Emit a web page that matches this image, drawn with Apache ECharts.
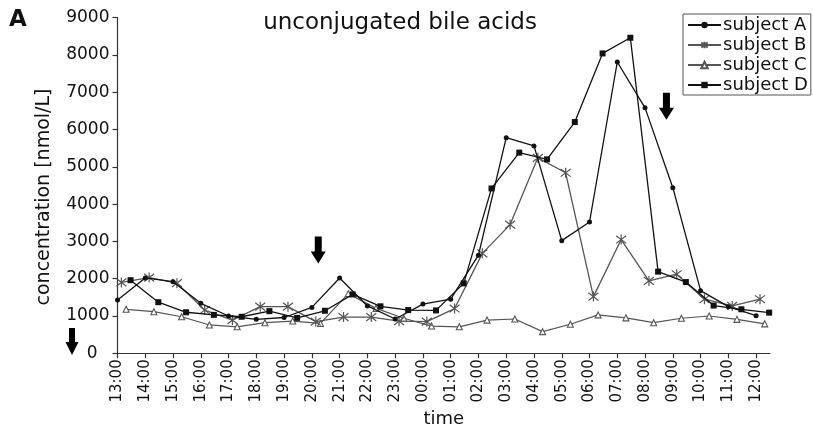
<!DOCTYPE html>
<html>
<head>
<meta charset="utf-8">
<script src="https://cdn.jsdelivr.net/npm/echarts@6/dist/echarts.min.js"></script>
<style>
  html, body { margin: 0; padding: 0; background: #fff; }
  #chart { width: 813px; height: 432px; }
</style>
</head>
<body>
<div id="chart"></div>
<script>
// tick labels on the time axis (one per hour, starting 13:00)
const tickLabels = ['13:00', '14:00', '15:00', '16:00', '17:00', '18:00', '19:00', '20:00',
  '21:00', '22:00', '23:00', '00:00', '01:00', '02:00', '03:00', '04:00', '05:00', '06:00',
  '07:00', '08:00', '09:00', '10:00', '11:00', '12:00'];
const yTicks = [0, 1000, 2000, 3000, 4000, 5000, 6000, 7000, 8000, 9000];

// each subject was sampled a little after the hour (in hours)
const offsetA = 0;
const offsetB = 0.14;
const offsetC = 0.31;
const offsetD = 0.47;

// concentrations [nmol/L], one per hourly sample
const subjectA = [1430, 2020, 1920, 1340, 1000, 910, 960, 1230, 2020, 1270, 920, 1320,
  1450, 2630, 5780, 5560, 3020, 3520, 7810, 6580, 4440, 1680, 1250, 1010];
const subjectB = [1900, 2030, 1880, 1160, 890, 1250, 1250, 850, 970, 970, 860, 850,
  1200, 2680, 3450, 5240, 4840, 1520, 3050, 1940, 2120, 1450, 1270, 1450];
const subjectC = [1180, 1115, 980, 760, 710, 820, 865, 800, 1600, 1205, 940, 730,
  710, 890, 920, 580, 780, 1030, 950, 820, 940, 1000, 910, 790];
const subjectD = [1960, 1370, 1100, 1030, 980, 1130, 950, 1140, 1580, 1260, 1160, 1150,
  1875, 4420, 5380, 5200, 6200, 8040, 8460, 2190, 1910, 1280, 1180, 1090];

// arrows marking meals
const arrowMarks = [[7.23, 2770], [19.77, 6625]];

const FONT = 'DejaVu Sans';
const arrowPath = 'path://M4,0 L11,0 L11,15 L15,15 L7.5,27 L0,15 L4,15 Z';
const starPath = 'path://M0,0 L10,10 M10,0 L0,10 M5,-1.5 L5,11.5';

const toPoints = (vals, off) => vals.map((v, i) => [i + off, v]);
const hourValues = tickLabels.map((t, i) => i);

const chart = echarts.init(document.getElementById('chart'));

const option = {
  animation: false,
  backgroundColor: '#fff',
  textStyle: { fontFamily: FONT },
  grid: { left: 117.5, top: 17.6, width: 652.5, height: 335.7, containLabel: false, outerBoundsMode: 'none' },
  xAxis: {
    type: 'value', min: 0, max: 23.5,
    name: 'time', nameLocation: 'middle', nameGap: 53,
    nameTextStyle: { fontSize: 18, color: '#111', fontFamily: FONT },
    splitLine: { show: false },
    axisLine: { show: true, lineStyle: { color: '#333', width: 1.2 } },
    axisTick: { show: true, length: 5, customValues: hourValues, lineStyle: { color: '#333', width: 1.2 } },
    axisLabel: {
      customValues: hourValues, rotate: 90, margin: 6, fontSize: 15, color: '#111', fontFamily: FONT,
      formatter: v => tickLabels[Math.round(v)] || ''
    }
  },
  yAxis: {
    type: 'value', min: 0, max: 9000, interval: 1000,
    splitLine: { show: false },
    axisLine: { show: true, lineStyle: { color: '#333', width: 1.2 } },
    axisTick: { show: true, length: 5, lineStyle: { color: '#333', width: 1.2 } },
    axisLabel: {
      margin: 8, fontSize: 17, color: '#111', fontFamily: FONT,
      formatter: v => (v === yTicks[0] ? '{z|0}' : String(v)),
      rich: { z: { fontSize: 17, color: '#111', fontFamily: FONT, padding: [0, 12, 0, 0] } }
    }
  },
  legend: {
    orient: 'vertical', left: 683, top: 14,
    padding: [1, 3, 0, 4], itemGap: 0, itemWidth: 33, itemHeight: 8,
    borderColor: '#555', borderWidth: 1,
    textStyle: { fontSize: 18, color: '#111', fontFamily: FONT, lineHeight: 20, padding: [0, 0, 0, -3] },
    data: ['subject A', 'subject B', 'subject C', 'subject D']
  },
  graphic: [
    { type: 'text', left: 9, top: 9, style: { text: 'A', fontSize: 23, fontWeight: 'bold', fontFamily: FONT, fill: '#111' } },
    { type: 'text', x: 400, y: 23, style: { text: 'unconjugated bile acids', fontSize: 23, fontFamily: FONT, fill: '#111', align: 'center', verticalAlign: 'middle' } },
    { type: 'text', x: 44, y: 197, rotation: Math.PI / 2, style: { text: 'concentration [nmol/L]', fontSize: 19, fontFamily: FONT, fill: '#111', align: 'center', verticalAlign: 'middle' } },
    { type: 'polygon', shape: { points: [[69, 328], [75, 328], [75, 342], [78.5, 342], [72, 355], [65.5, 342], [69, 342]] }, style: { fill: '#000' } }
  ],
  series: [
    {
      name: 'subject A', type: 'line', data: toPoints(subjectA, offsetA),
      symbol: 'circle', symbolSize: 5, showAllSymbol: true,
      lineStyle: { color: '#111', width: 1.3 }, itemStyle: { color: '#111' },
      markPoint: {
        symbol: arrowPath, symbolSize: [15, 27], symbolOffset: [0, 0],
        label: { show: false }, itemStyle: { color: '#000' },
        data: arrowMarks.map(c => ({ coord: c }))
      },
      z: 4
    },
    {
      name: 'subject B', type: 'line', data: toPoints(subjectB, offsetB),
      symbol: starPath, symbolSize: 10, showAllSymbol: true,
      lineStyle: { color: '#555', width: 1.3 },
      itemStyle: { color: '#555', borderColor: '#555', borderWidth: 1.2 },
      z: 3
    },
    {
      name: 'subject C', type: 'line', data: toPoints(subjectC, offsetC),
      symbol: 'triangle', symbolSize: 6, showAllSymbol: true,
      lineStyle: { color: '#555', width: 1.2 },
      itemStyle: { color: '#fff', borderColor: '#555', borderWidth: 1.1 },
      z: 2
    },
    {
      name: 'subject D', type: 'line', data: toPoints(subjectD, offsetD),
      symbol: 'rect', symbolSize: 6, showAllSymbol: true,
      lineStyle: { color: '#111', width: 1.3 }, itemStyle: { color: '#111' },
      z: 4
    }
  ]
};

chart.setOption(option);
</script>
</body>
</html>
